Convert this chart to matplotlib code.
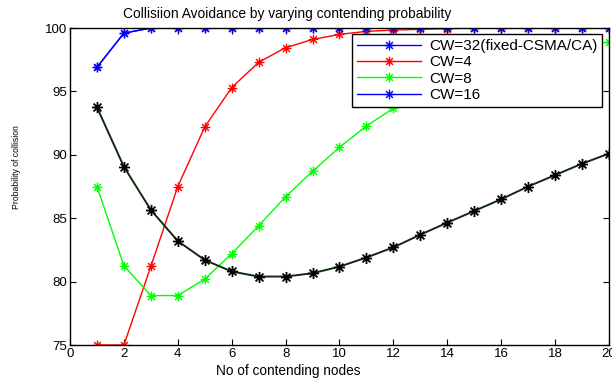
import numpy as np
import matplotlib.pyplot as plt
from matplotlib.path import Path

plt.rcParams['font.family'] = ['Liberation Sans', 'DejaVu Sans']

nodes = np.arange(1, 21)
cw32 = [96.9, 99.6, 100, 100, 100, 100, 100, 100, 100, 100,
        100, 100, 100, 100, 100, 100, 100, 100, 100, 100]
cw4 = [75.0, 75.0, 81.2, 87.5, 92.2, 95.3, 97.3, 98.45, 99.1, 99.5,
       99.74, 99.84, 99.9, 99.95, 100, 100, 100, 100, 100, 100]
cw8 = [87.5, 81.25, 78.9, 78.9, 80.2, 82.2, 84.4, 86.7, 88.7, 90.6,
       92.27, 93.67, 94.9, 95.9, 96.7, 97.4, 97.9, 98.3, 98.6, 98.9]
cw16 = cw32
mixed = [93.75, 89.06, 85.65, 83.2, 81.7, 80.8, 80.4, 80.4, 80.66, 81.18,
         81.9, 82.7, 83.7, 84.65, 85.57, 86.5, 87.5, 88.4, 89.3, 90.1]

# matlab style '*' marker: plus + cross
d = 0.7071
star = Path([(-1, 0), (1, 0), (0, -1), (0, 1), (-d, -d), (d, d), (-d, d), (d, -d)],
            [Path.MOVETO, Path.LINETO] * 4)

fig = plt.figure(figsize=(6.12, 3.79), dpi=100)
ax = fig.add_axes([0.1144, 0.0897, 0.8806, 0.8363])

kw = dict(marker=star, lw=1, ms=7, mew=1)
ax.plot(nodes, cw32, color='b', label='CW=32(fixed-CSMA/CA)', **kw)
ax.plot(nodes, cw4, color='r', label='CW=4', **kw)
ax.plot(nodes, cw8, color='#00ff00', label='CW=8', **kw)
ax.plot(nodes, cw16, color='b', label='CW=16', **kw)
ax.plot(nodes, mixed, color='#0f2a0f', marker=star, mec='k', lw=1.4, ms=8, mew=1.3)

ax.set_xlim(0, 20)
ax.set_ylim(75, 100)
ax.set_xticks(np.arange(0, 21, 2))
ax.set_yticks(np.arange(75, 101, 5))
ax.tick_params(direction='in', top=True, right=True, labelsize=9.5, length=4, pad=2)
for s in ax.spines.values():
    s.set_linewidth(1)

fig.text(287 / 612, 1 - 14 / 379, 'Collisiion Avoidance by varying contending probability',
         fontsize=9.9, ha='center', va='center')
fig.text(288 / 612, 1 - 371 / 379, 'No of contending nodes', fontsize=9.8,
         ha='center', va='center')
fig.text(17 / 612, 1 - 167 / 379, 'Probability of collision', fontsize=6.2,
         rotation=90, ha='center', va='center')

leg = ax.legend(loc='upper right', bbox_to_anchor=(0.988, 0.982), fontsize=11,
                fancybox=False, framealpha=1, edgecolor='k', borderpad=0.35,
                labelspacing=0.15, handlelength=4.2, handletextpad=0.5, borderaxespad=0)
leg.get_frame().set_linewidth(1)

fig.savefig('out.png', dpi=100)
